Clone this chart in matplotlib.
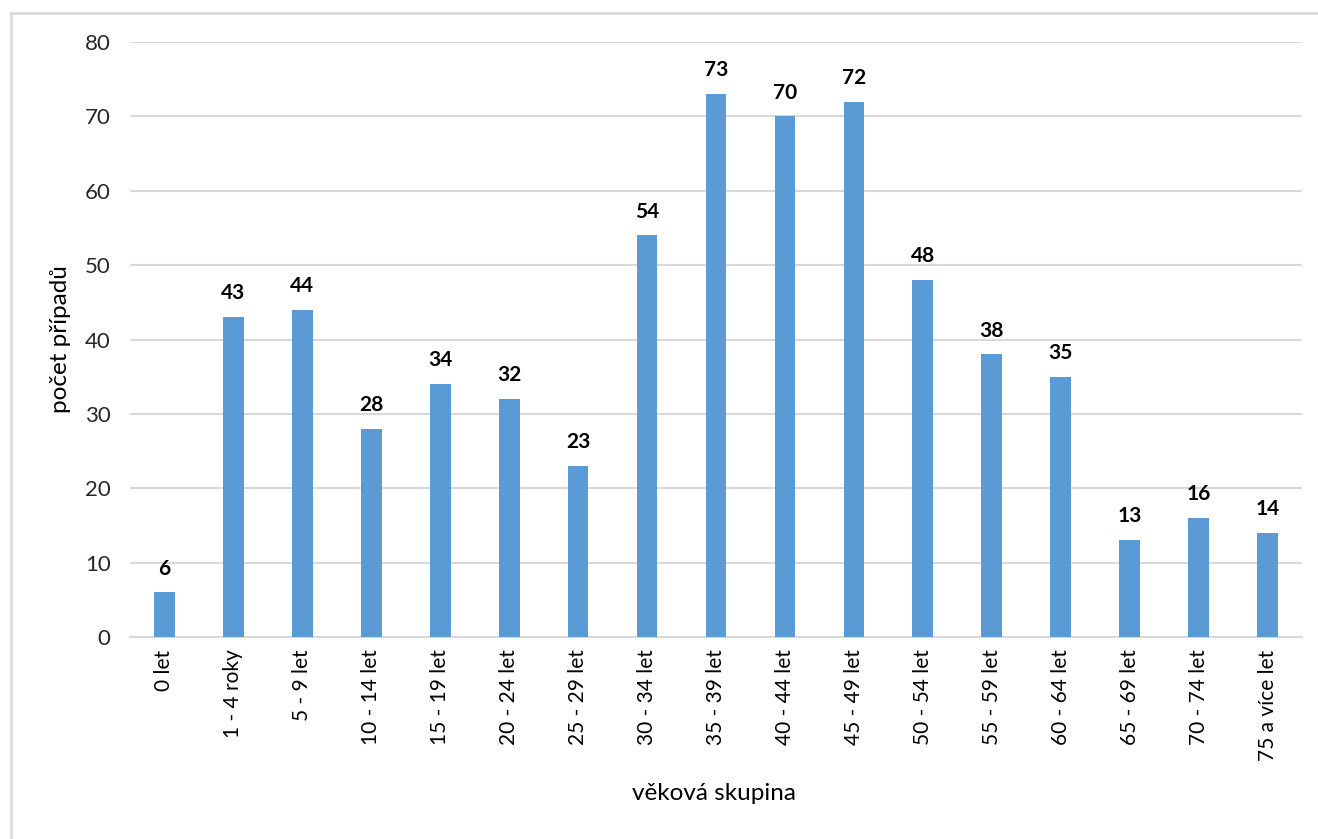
import matplotlib
matplotlib.use("Agg")
import matplotlib.pyplot as plt
from matplotlib.lines import Line2D

categories = ["0 let", "1 - 4 roky", "5 - 9 let", "10 - 14 let", "15 - 19 let",
              "20 - 24 let", "25 - 29 let", "30 - 34 let", "35 - 39 let", "40 - 44 let",
              "45 - 49 let", "50 - 54 let", "55 - 59 let", "60 - 64 let", "65 - 69 let",
              "70 - 74 let", "75 a více let"]
values = [6, 43, 44, 28, 34, 32, 23, 54, 73, 70, 72, 48, 38, 35, 13, 16, 14]
yticks = [0, 10, 20, 30, 40, 50, 60, 70, 80]

plt.rcParams['font.family'] = ['Lato', 'DejaVu Sans']

W, H = 1318, 839
fig = plt.figure(figsize=(W / 100, H / 100), dpi=100)
# chart-area border (top and left edges visible)
fig.add_artist(Line2D([10.5 / W, 10.5 / W], [0, 1 - 13 / H], transform=fig.transFigure,
                      color='#D9D9D9', linewidth=1.8))
fig.add_artist(Line2D([10.5 / W, 1], [1 - 13 / H, 1 - 13 / H], transform=fig.transFigure,
                      color='#D9D9D9', linewidth=1.8))

ax = fig.add_axes([130 / W, 1 - 637 / H, 1172 / W, 595 / H])

x = list(range(len(categories)))
ax.bar(x, values, width=0.3, color='#5B9BD5', zorder=3)
for xi, v in zip(x, values):
    ax.text(xi, v + 2.4, str(v), ha='center', va='baseline', fontsize=15,
            fontweight='bold', color='#000000')

ax.set_xlim(-0.5, len(categories) - 0.5)
ax.set_ylim(0, 80)
ax.set_yticks(yticks)
ax.set_yticklabels([str(t) for t in yticks], fontsize=16, color='#262626')
ax.set_xticks(x)
ax.set_xticklabels(categories, rotation=90, fontsize=15, color='#000000')
ax.tick_params(axis='y', length=0, pad=14)
ax.tick_params(axis='x', length=0, pad=9)
ax.yaxis.grid(True, color='#D9D9D9', linewidth=1.5, zorder=0)
for s in ['top', 'right', 'left']:
    ax.spines[s].set_visible(False)
ax.spines['bottom'].set_color('#D9D9D9')
ax.spines['bottom'].set_linewidth(1.5)

fig.text(61 / W, 1 - 339 / H, "počet případů", rotation=90, ha='center', va='center',
         fontsize=17.5, color='#000000')
fig.text(714 / W, 1 - 793 / H, "věková skupina", ha='center', va='center',
         fontsize=17.5, color='#000000')

fig.savefig("out.png", dpi=100)
